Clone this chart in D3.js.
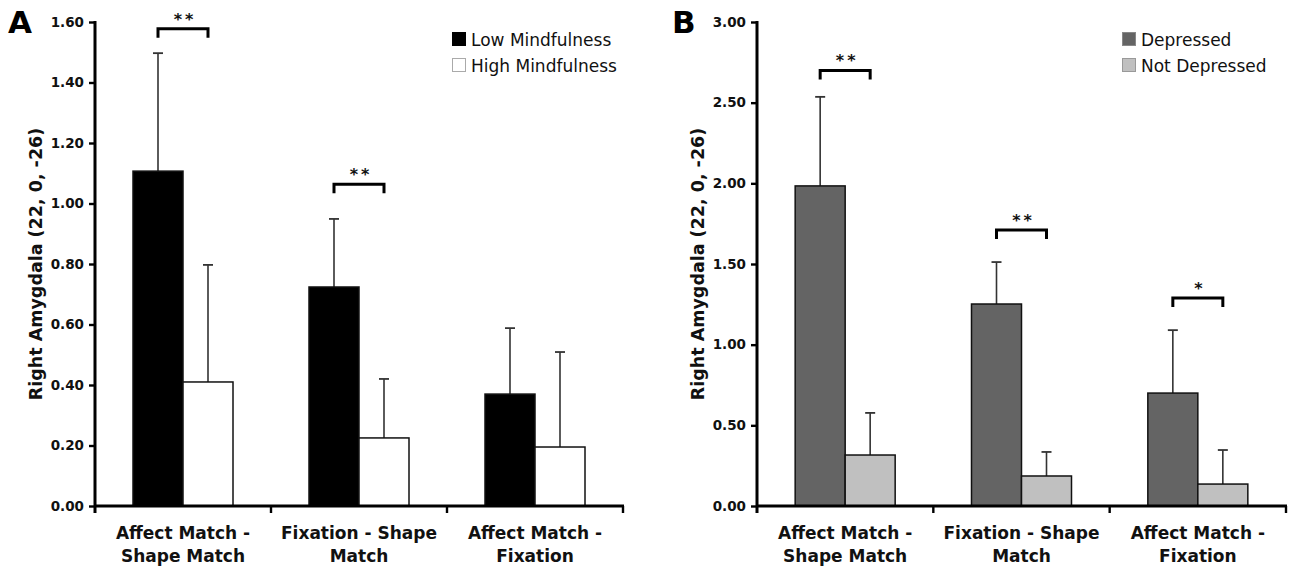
<!DOCTYPE html>
<html>
<head>
<meta charset="utf-8">
<script src="https://cdn.jsdelivr.net/npm/d3@7"></script>
<style>
  body { margin: 0; background: #fff; }
  text { font-family: "DejaVu Sans", Verdana, sans-serif; }
</style>
</head>
<body>
<svg id="chart" width="1290" height="569"></svg>
<script>
// data
var categories = [
  ['Affect Match -', 'Shape Match'],
  ['Fixation - Shape', 'Match'],
  ['Affect Match -', 'Fixation']
];

var lowMindfulness = [1.107, 0.724, 0.37];
var lowMindfulnessErr = [0.39, 0.225, 0.218];
var highMindfulness = [0.41, 0.225, 0.195];
var highMindfulnessErr = [0.387, 0.195, 0.314];
var sigA = ['**', '**', ''];
var sigLevelA = [1.578, 1.064, null];
var ticksA = [0, 0.2, 0.4, 0.6, 0.8, 1.0, 1.2, 1.4, 1.6];

var depressed = [1.984, 1.252, 0.70];
var depressedErr = [0.552, 0.26, 0.39];
var notDepressed = [0.316, 0.186, 0.136];
var notDepressedErr = [0.261, 0.149, 0.211];
var sigB = ['**', '**', '*'];
var sigLevelB = [2.70, 1.71, 1.29];
var ticksB = [0, 0.5, 1.0, 1.5, 2.0, 2.5, 3.0];

var svg = d3.select('#chart');

var drawPanel = function(p) {
  var g = svg.append('g');

  var y = d3.scaleLinear().domain([0, p.ticks[p.ticks.length - 1]]).range([506, 22]);
  var x0 = d3.scaleBand().domain(d3.range(categories.length)).range([p.left, p.right]);
  var groupW = 100;
  var x1 = d3.scaleBand().domain([0, 1]).range([0, groupW]);
  var groupX = function(i) { return x0(i) + (x0.bandwidth() - groupW) / 2; };

  var series = [
    { vals: p.a, err: p.aErr, fill: p.aFill },
    { vals: p.b, err: p.bErr, fill: p.bFill }
  ];

  // error bars first, bars cover the lower part
  series.forEach(function(s, si) {
    var cx = function(d, i) { return groupX(i) + x1(si) + x1.bandwidth() / 2; };
    var eb = g.selectAll('.eb' + si)
      .data(s.vals)
      .enter()
      .append('g');
    eb.append('line')
      .attr('x1', cx).attr('x2', cx)
      .attr('y1', function(d) { return y(d); })
      .attr('y2', function(d, i) { return y(d + s.err[i]); })
      .attr('stroke', '#333').attr('stroke-width', 1.6);
    eb.append('line')
      .attr('x1', function(d, i) { return cx(d, i) - 5; })
      .attr('x2', function(d, i) { return cx(d, i) + 5; })
      .attr('y1', function(d, i) { return y(d + s.err[i]); })
      .attr('y2', function(d, i) { return y(d + s.err[i]); })
      .attr('stroke', '#333').attr('stroke-width', 1.8);
  });

  series.forEach(function(s, si) {
    g.selectAll('.bar' + si)
      .data(s.vals)
      .enter()
      .append('rect')
      .attr('x', function(d, i) { return groupX(i) + x1(si); })
      .attr('y', function(d) { return y(d); })
      .attr('width', x1.bandwidth())
      .attr('height', function(d) { return y(0) - y(d); })
      .attr('fill', s.fill)
      .attr('stroke', '#111')
      .attr('stroke-width', 1.5);
  });

  // y axis
  var yAxis = g.append('g')
    .attr('transform', 'translate(' + p.left + ',0)')
    .call(d3.axisLeft(y).tickValues(p.ticks).tickFormat(d3.format('.2f')).tickSize(6).tickSizeOuter(0));
  yAxis.select('.domain').remove();
  yAxis.selectAll('.tick line').attr('stroke', '#000').attr('stroke-width', 2.4);
  yAxis.selectAll('.tick text')
    .attr('x', -11)
    .style('font-family', '"DejaVu Sans", Verdana, sans-serif')
    .style('font-size', '13.5px')
    .style('font-weight', 'bold')
    .attr('fill', '#111');
  g.append('line')
    .attr('x1', p.left).attr('x2', p.left)
    .attr('y1', y.range()[1] - 1).attr('y2', y(0) + 7)
    .attr('stroke', '#000').attr('stroke-width', 3);

  // x axis
  g.append('line')
    .attr('x1', p.left - 1).attr('x2', p.right + 1)
    .attr('y1', y(0)).attr('y2', y(0))
    .attr('stroke', '#000').attr('stroke-width', 2.8);
  var bounds = d3.range(categories.length).map(function(i) { return x0(i) + x0.bandwidth(); });
  g.selectAll('.xtick')
    .data(bounds)
    .enter()
    .append('line')
    .attr('x1', function(d) { return d; }).attr('x2', function(d) { return d; })
    .attr('y1', y(0)).attr('y2', y(0) + 7)
    .attr('stroke', '#000').attr('stroke-width', 2.4);

  var labels = g.selectAll('.xlab')
    .data(categories)
    .enter()
    .append('text')
    .attr('text-anchor', 'middle')
    .attr('font-size', '17px')
    .attr('font-weight', 'bold')
    .attr('fill', '#111');
  labels.selectAll('tspan')
    .data(function(d, i) { return d.map(function(t) { return { t: t, i: i }; }); })
    .enter()
    .append('tspan')
    .attr('x', function(d) { return x0(d.i) + x0.bandwidth() / 2; })
    .attr('y', function(d, j) { return 539 + j * 23; })
    .text(function(d) { return d.t; });

  // significance brackets
  p.sig.forEach(function(s, i) {
    if (!s) return;
    var xa = groupX(i) + x1.bandwidth() / 2;
    var xb = groupX(i) + x1(1) + x1.bandwidth() / 2;
    var yy = y(p.sigLevel[i]);
    g.append('path')
      .attr('d', 'M' + xa + ',' + (yy + 9) + 'V' + yy + 'H' + xb + 'V' + (yy + 9))
      .attr('fill', 'none')
      .attr('stroke', '#000')
      .attr('stroke-width', 3);
    g.append('text')
      .attr('x', (xa + xb) / 2 + 2)
      .attr('y', yy - 4)
      .attr('text-anchor', 'middle')
      .attr('font-size', '16px')
      .attr('font-weight', 'bold')
      .attr('letter-spacing', '3px')
      .attr('fill', '#111')
      .text(s);
  });

  // y title
  g.append('text')
    .attr('transform', 'translate(' + (p.left - 53) + ',264) rotate(-90)')
    .attr('text-anchor', 'middle')
    .attr('font-size', '17.5px')
    .attr('font-weight', 'bold')
    .attr('fill', '#111')
    .text('Right Amygdala (22, 0, -26)');

  // panel letter
  g.append('text')
    .attr('x', p.letterX)
    .attr('y', 33)
    .attr('font-size', '31px')
    .attr('font-weight', 'bold')
    .attr('fill', '#000')
    .text(p.letter);

  // legend
  var leg = g.selectAll('.leg')
    .data(p.legend)
    .enter()
    .append('g')
    .attr('transform', function(d, i) { return 'translate(' + p.legendX + ',' + (32 + i * 26) + ')'; });
  leg.append('rect')
    .attr('x', 0.5).attr('y', 0.5)
    .attr('width', 13).attr('height', 13)
    .attr('fill', function(d, i) { return series[i].fill; })
    .attr('stroke', function(d, i) { return p.legendStroke[i]; })
    .attr('stroke-width', 1);
  leg.append('text')
    .attr('x', 19)
    .attr('y', 13.5)
    .attr('font-size', '17px')
    .attr('fill', '#111')
    .text(function(d) { return d; });
};

drawPanel({
  left: 95, right: 623,
  ticks: ticksA,
  a: lowMindfulness, aErr: lowMindfulnessErr, aFill: '#000',
  b: highMindfulness, bErr: highMindfulnessErr, bFill: '#fff',
  sig: sigA, sigLevel: sigLevelA,
  letter: 'A', letterX: 8,
  legend: ['Low Mindfulness', 'High Mindfulness'],
  legendStroke: ['#000', '#aaa'],
  legendX: 452
});

drawPanel({
  left: 757, right: 1286,
  ticks: ticksB,
  a: depressed, aErr: depressedErr, aFill: '#646464',
  b: notDepressed, bErr: notDepressedErr, bFill: '#c0c0c0',
  sig: sigB, sigLevel: sigLevelB,
  letter: 'B', letterX: 672,
  legend: ['Depressed', 'Not Depressed'],
  legendStroke: ['#888', '#999'],
  legendX: 1122
});
</script>
</body>
</html>
